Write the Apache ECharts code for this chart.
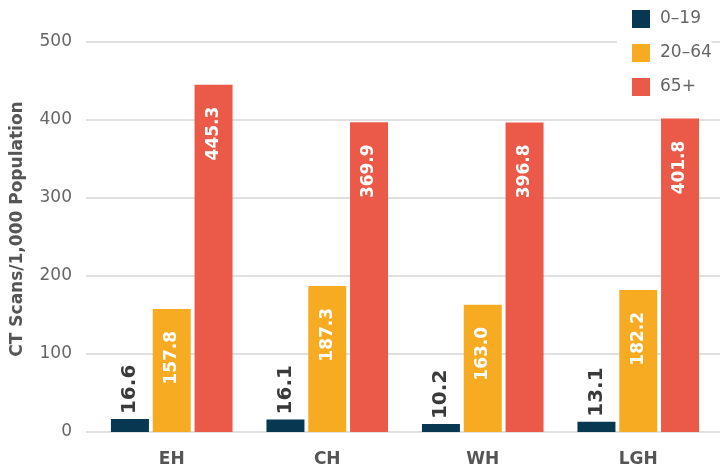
<!DOCTYPE html>
<html>
<head>
<meta charset="utf-8">
<script src="https://cdn.jsdelivr.net/npm/echarts@6/dist/echarts.min.js"></script>
<style>
  html, body { margin: 0; padding: 0; background: #fff; }
  #chart { width: 720px; height: 469px; }
</style>
</head>
<body>
<div id="chart"></div>
<script>
    var categorias = ['EH', 'CH', 'WH', 'LGH'];
    var faixas = ['0–19', '20–64', '65+'];
    var valores0a19 = [16.6, 16.1, 10.2, 13.1];
    var valores20a64 = [157.8, 187.3, 163.0, 182.2];
    // bar heights as drawn in the picture (CH bar is drawn near 397)
    var valores65 = [445.3, 397.0, 396.8, 401.8];
    // printed labels of the 65+ bars
    var rotulos65 = ['445.3', '369.9', '396.8', '401.8'];
    var yTicks = [0, 100, 200, 300, 400, 500];

    var fonte = 'DejaVu Sans';
    var cores = ['#083752', '#f6ab22', '#eb5a48'];

    var dom = document.getElementById('chart');
    var chart = echarts.init(dom, null, { renderer: 'canvas' });

    var rotuloDentro = {
        show: true,
        position: 'insideTop',
        distance: 22,
        rotate: 90,
        align: 'right',
        verticalAlign: 'middle',
        color: '#fff',
        fontFamily: fonte,
        fontWeight: 'bold',
        fontSize: 17
    };

    chart.setOption({
        animation: false,
        textStyle: { fontFamily: fonte },
        legend: {
            orient: 'vertical',
            left: 617,
            top: 0,
            padding: [10, 0, 10, 15],
            backgroundColor: '#fff',
            itemWidth: 18,
            itemHeight: 18,
            itemGap: 16,
            icon: 'rect',
            data: faixas,
            textStyle: { color: '#666', fontSize: 17, fontFamily: fonte, padding: [0, 0, 0, 5] }
        },
        grid: [
            { left: 86, right: 0, top: 42, bottom: 37 },
            { left: 94, right: 4, top: 42, bottom: 37 }
        ],
        xAxis: [
            { gridIndex: 0, type: 'value', show: false, min: 0, max: 1 },
            {
                gridIndex: 1,
                type: 'category',
                data: categorias,
                axisLine: { show: false },
                axisTick: { show: false },
                axisLabel: { color: '#555', fontSize: 17, fontWeight: 'bold', margin: 19, fontFamily: fonte }
            }
        ],
        yAxis: [
            {
                gridIndex: 0,
                type: 'value',
                min: yTicks[0],
                max: yTicks[yTicks.length - 1],
                interval: 100,
                name: 'CT Scans/1,000 Population',
                nameLocation: 'middle',
                nameGap: 60,
                nameTextStyle: { color: '#555', fontSize: 17, fontWeight: 'bold', fontFamily: fonte, padding: [0, 0, 0, 16] },
                axisLine: { show: false },
                axisTick: { show: false },
                axisLabel: { color: '#666', fontSize: 17, margin: 14, fontFamily: fonte },
                splitLine: { lineStyle: { color: '#d6d6d6', width: 1.5 } }
            },
            {
                gridIndex: 1,
                type: 'value',
                min: 0,
                max: 500,
                interval: 100,
                show: false,
                splitLine: { show: false }
            }
        ],
        series: [
            {
                name: faixas[0],
                type: 'bar',
                xAxisIndex: 1,
                yAxisIndex: 1,
                barWidth: 38,
                barGap: '10%',
                color: cores[0],
                data: valores0a19,
                label: {
                    show: true,
                    position: 'top',
                    distance: 5,
                    rotate: 90,
                    align: 'left',
                    verticalAlign: 'middle',
                    color: '#3a3a3a',
                    fontFamily: fonte,
                    fontWeight: 'bold',
                    fontSize: 20,
                    formatter: function (p) { return p.value.toFixed(1); }
                }
            },
            {
                name: faixas[1],
                type: 'bar',
                xAxisIndex: 1,
                yAxisIndex: 1,
                barWidth: 38,
                barGap: '10%',
                color: cores[1],
                data: valores20a64,
                label: Object.assign({}, rotuloDentro, {
                    formatter: function (p) { return p.value.toFixed(1); }
                })
            },
            {
                name: faixas[2],
                type: 'bar',
                xAxisIndex: 1,
                yAxisIndex: 1,
                barWidth: 38,
                barGap: '10%',
                color: cores[2],
                data: valores65,
                label: Object.assign({}, rotuloDentro, {
                    formatter: function (p) { return rotulos65[p.dataIndex]; }
                })
            }
        ]
    });

    window.addEventListener('resize', chart.resize);
</script>
</body>
</html>
